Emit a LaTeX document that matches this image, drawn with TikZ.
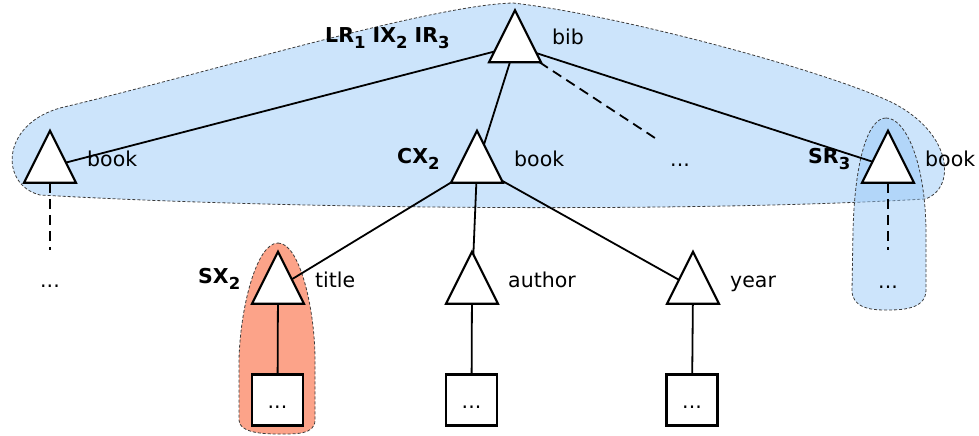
\documentclass[tikz,border=0pt]{standalone}
\usepackage{fontspec}
\setmainfont{DejaVu Sans}
\usetikzlibrary{shapes.geometric}
\definecolor{blobblue}{RGB}{151,200,247}
\definecolor{blobsalmon}{RGB}{252,163,137}
\definecolor{outline}{RGB}{60,60,60}
\newcommand\subl[1]{\raisebox{-6pt}{\fontsize{16.5}{16.5}\selectfont #1}}
\begin{document}
\begin{tikzpicture}[x=1pt,y=-1pt,
  every node/.style={font=\fontsize{20.5}{24}\selectfont},
  tri/.style={draw, line width=2.1pt, fill=white, isosceles triangle,
    isosceles triangle stretches, shape border rotate=90,
    minimum width=52pt, minimum height=52pt, inner sep=0pt, outer sep=0pt},
  leaf/.style={draw, line width=2.1pt, fill=white, minimum size=51pt,
    inner sep=0pt, text height=16pt, text depth=0pt},
  lbl/.style={inner sep=0pt, anchor=base west},
  dots/.style={inner sep=0pt, anchor=base},
  edge/.style={line width=1.8pt},
  dashedge/.style={line width=1.8pt, dash pattern=on 10pt off 6pt},
  region/.style={draw=outline, line width=0.8pt, dash pattern=on 3pt off 2pt},
]
\useasboundingbox (0,0) rectangle (979,436);

% selection regions
\path[region, fill=blobblue, fill opacity=0.49]
  (513,3) .. controls (620,15) and (830,72) .. (893,103)
  .. controls (955,135) and (955,190) .. (925,199)
  .. controls (700,212) and (300,210) .. (40,195)
  .. controls (0,185) and (0,125) .. (60,108)
  .. controls (200,75) and (430,5) .. (513,3) -- cycle;
\path[region, fill=blobblue, fill opacity=0.49]
  (886,118) .. controls (905,118) and (925,160) .. (926,230)
  -- (926,290) .. controls (926,310) and (900,310) .. (886,310)
  .. controls (870,310) and (852,308) .. (852,290)
  -- (853,230) .. controls (855,160) and (868,118) .. (886,118) -- cycle;
\path[region, fill=blobsalmon]
  (278,243) .. controls (300,243) and (315,310) .. (315,360)
  -- (315,420) .. controls (315,435) and (295,434) .. (278,434)
  .. controls (260,434) and (239,432) .. (239,420)
  -- (239,360) .. controls (240,310) and (256,243) .. (278,243) -- cycle;

% tree nodes (a triangle's centre sits one third of its height above the base)
\node[tri] (bib)    at (515,46.2) {};
\node[tri] (book1)  at (50,166.7) {};
\node[tri] (book2)  at (477,166.7) {};
\node[tri] (book3)  at (888,166.7) {};
\node[tri] (title)  at (278,287.7) {};
\node[tri] (author) at (472,287.7) {};
\node[tri] (year)   at (693,287.7) {};
\node[leaf] (titlev)  at (277.5,400) {...};
\node[leaf] (authorv) at (471.5,400) {...};
\node[leaf] (yearv)   at (692,400) {...};

\coordinate (more)  at (655,138);
\coordinate (down1) at (50,250);
\coordinate (down3) at (888,250);

% connectors
\draw[edge] (bib) -- (book1);
\draw[edge] (bib) -- (book2);
\draw[edge] (bib) -- (book3);
\draw[dashedge] (bib) -- (more);
\draw[edge] (book2) -- (title);
\draw[edge] (book2) -- (author);
\draw[edge] (book2) -- (year);
\draw[edge] (title) -- (titlev);
\draw[edge] (author) -- (authorv);
\draw[edge] (year) -- (yearv);
\draw[dashedge] (book1.south) -- (down1);
\draw[dashedge] (book3.south) -- (down3);

% element names
\node[lbl] (lbib)    at (552,45)  {bib};
\node[lbl] (lbook1)  at (87,166)  {book};
\node[lbl] (lbook2)  at (514,166) {book};
\node[lbl] (lbook3)  at (925,166) {book};
\node[lbl] (ltitle)  at (315,287) {title};
\node[lbl] (lauthor) at (508,287) {author};
\node[lbl] (lyear)   at (730,287) {year};
\node[dots] (dmid) at (680,166) {...};
\node[dots] (d1)   at (50,287)  {...};
\node[dots] (d3)   at (888,288) {...};

% operation labels
\node[lbl] (ops) at (325,42)  {\bfseries LR\subl{1} IX\subl{2} IR\subl{3}};
\node[lbl] (cx)  at (397,163) {\bfseries CX\subl{2}};
\node[lbl] (sr)  at (808,163) {\bfseries SR\subl{3}};
\node[lbl] (sx)  at (198,283) {\bfseries SX\subl{2}};
\end{tikzpicture}
\end{document}
